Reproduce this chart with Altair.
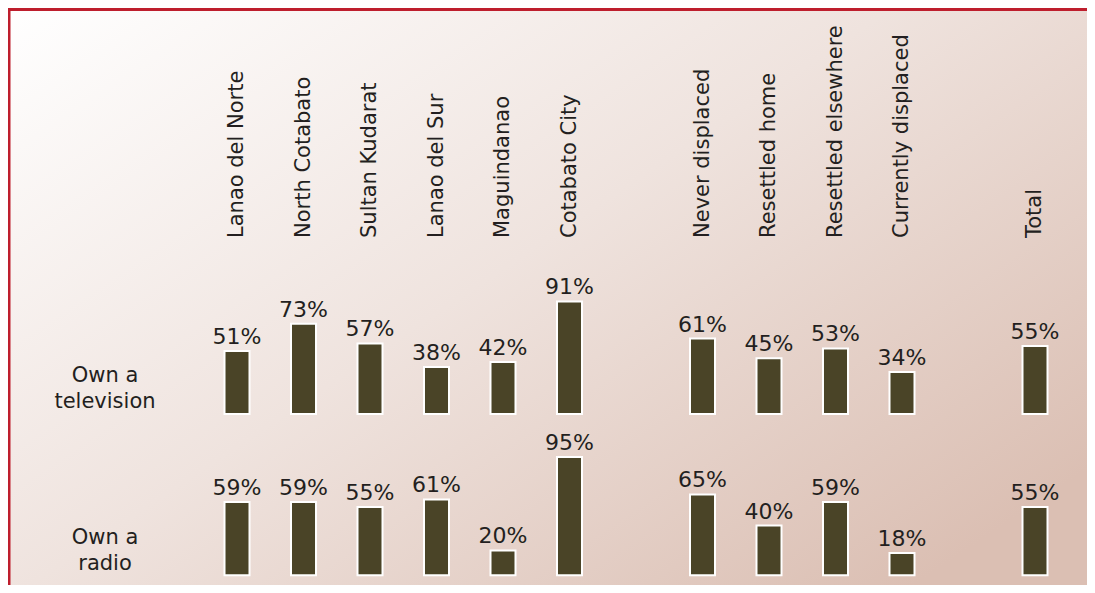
import altair as alt
import pandas as pd

regions = ["Lanao del Norte", "North Cotabato", "Sultan Kudarat", "Lanao del Sur",
           "Maguindanao", "Cotabato City"]
displacement = ["Never displaced", "Resettled home", "Resettled elsewhere",
                "Currently displaced"]
total = ["Total"]
categories = regions + displacement + total

tv_values = [51, 73, 57, 38, 42, 91, 61, 45, 53, 34, 55]
radio_values = [59, 59, 55, 61, 20, 95, 65, 40, 59, 18, 55]

row_labels = ["Own a\ntelevision", "Own a\nradio"]

# x domain with blank spacer slots between groups
x_domain = regions + [" "] + displacement + ["  "] + total

FONT = "DejaVu Sans"
TXT = "#231f20"
BAR = "#4a4427"
RED = "#be1e2d"

df = pd.DataFrame({"category": categories, "tv": tv_values, "radio": radio_values})
df["tv_label"] = [f"{v}%" for v in tv_values]
df["radio_label"] = [f"{v}%" for v in radio_values]

W, H = 1079, 577

xscale = alt.Scale(domain=x_domain, range=[195.75, 1060.25], paddingInner=0, paddingOuter=0)
X = alt.X("category:N", scale=xscale, axis=None)

gradient = {
    "gradient": "linear",
    "x1": 0, "y1": 0, "x2": 1, "y2": 0.8,
    "stops": [
        {"offset": 0, "color": "#ffffff"},
        {"offset": 0.5, "color": "#efe3de"},
        {"offset": 1, "color": "#dbbfb3"},
    ],
}

one = alt.Data(values=[{}])
bg = alt.Chart(one).mark_rect(fill=gradient).encode(
    x=alt.value(0), x2=alt.value(W), y=alt.value(0), y2=alt.value(H)
)
border_left = alt.Chart(one).mark_rule(color=RED, strokeWidth=3).encode(
    x=alt.value(1), y=alt.value(0), y2=alt.value(H)
)
border_top = alt.Chart(one).mark_rule(color=RED, strokeWidth=3).encode(
    y=alt.value(1.5), x=alt.value(0), x2=alt.value(W)
)

base = alt.Chart(df)

col_labels = base.mark_text(
    angle=270, align="left", baseline="middle", font=FONT, fontSize=21, color=TXT
).encode(x=X, y=alt.value(230), text="category:N")

y_tv = alt.Y("tv:Q", scale=alt.Scale(domain=[0, 100], range=[406, 282.3]), axis=None)
y_radio = alt.Y("radio:Q", scale=alt.Scale(domain=[0, 100], range=[567.3, 442.9]), axis=None)

bar_style = dict(width=25, fill=BAR, stroke="white", strokeWidth=2)
txt_style = dict(dy=-7, baseline="alphabetic", align="center", font=FONT, fontSize=22, color=TXT)

tv_bars = base.mark_bar(**bar_style).encode(x=X, y=y_tv)
tv_text = base.mark_text(**txt_style).encode(x=X, y=y_tv, text="tv_label:N")
radio_bars = base.mark_bar(**bar_style).encode(x=X, y=y_radio)
radio_text = base.mark_text(**txt_style).encode(x=X, y=y_radio, text="radio_label:N")

row_style = dict(lineBreak="\n", lineHeight=26, align="center", baseline="middle",
                 font=FONT, fontSize=21, color=TXT)
row1 = alt.Chart(alt.Data(values=[{"label": row_labels[0]}])).mark_text(**row_style).encode(
    x=alt.value(97), y=alt.value(368), text="label:N")
row2 = alt.Chart(alt.Data(values=[{"label": row_labels[1]}])).mark_text(**row_style).encode(
    x=alt.value(97), y=alt.value(530), text="label:N")

chart = alt.layer(
    bg, border_left, border_top, col_labels, tv_bars, tv_text, radio_bars, radio_text, row1, row2
).resolve_scale(y="independent").properties(
    width=W, height=H, padding=0, autosize=alt.AutoSizeParams(type="none"),
    background="white"
).configure_view(stroke=None)

chart.save("out.html", embed_options={"renderer": "svg", "actions": False})
